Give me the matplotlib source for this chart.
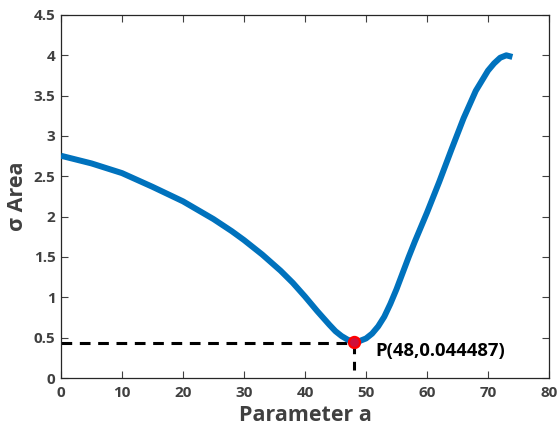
import matplotlib
matplotlib.use("Agg")
import matplotlib.pyplot as plt

# curve values
a_vals = [0, 5, 10, 15, 20, 25, 28, 30, 33, 36, 38, 40, 42, 44, 45, 46, 47, 48,
          49, 50, 51, 52, 53, 54, 55, 56, 57, 58, 60, 62, 64, 66, 68, 70, 71, 72, 73, 74]
area_vals = [2.755, 2.66, 2.54, 2.37, 2.19, 1.97, 1.82, 1.71, 1.53, 1.33, 1.18, 1.01,
             0.83, 0.66, 0.58, 0.52, 0.475, 0.45, 0.46, 0.49, 0.55, 0.64, 0.76, 0.92,
             1.10, 1.30, 1.50, 1.69, 2.05, 2.43, 2.83, 3.22, 3.56, 3.81, 3.90, 3.97,
             4.00, 3.98]

min_a = 48
min_area = 0.44
label = "P(48,0.044487)"

plt.rcParams['font.family'] = ['Open Sans', 'DejaVu Sans']
plt.rcParams['font.weight'] = 'bold'

fig = plt.figure(figsize=(5.57, 4.28), dpi=100)
ax = fig.add_axes([0.1095, 0.1168, 0.8761, 0.8482])

ax.plot(a_vals, area_vals, color='#0072BD', linewidth=4.3, solid_capstyle='butt',
        solid_joinstyle='round', zorder=3)

# dashed guides to the minimum
ax.plot([0, min_a], [min_area, min_area], color='black', linestyle=(0, (3.5, 2.5)), linewidth=2.2, zorder=2)
ax.plot([min_a, min_a], [min_area, 0.1], color='black', linestyle=(0, (3.5, 2.5)), linewidth=2.2, zorder=2)
ax.plot([min_a], [0.45], marker='o', markersize=8, markerfacecolor='#d0103a',
        markeredgecolor='#ff0000', markeredgewidth=1.6, zorder=4)
ax.text(51.5, 0.33, label, fontsize=13.3, fontweight='bold', color='black', va='center', ha='left')

ax.set_xlim(0, 80)
ax.set_ylim(0, 4.5)
ax.set_xticks(range(0, 81, 10))
ax.set_yticks([0, 0.5, 1, 1.5, 2, 2.5, 3, 3.5, 4, 4.5])
ax.set_yticklabels(['0', '0.5', '1', '1.5', '2', '2.5', '3', '3.5', '4', '4.5'])

ax.tick_params(direction='in', top=True, right=True, length=5, width=0.8,
               colors='#404040', labelsize=11)
ax.tick_params(axis='x', pad=6)
ax.tick_params(axis='y', pad=4)
for lab in ax.get_xticklabels() + ax.get_yticklabels():
    lab.set_fontweight('bold')
for sp in ax.spines.values():
    sp.set_color('#262626')
    sp.set_linewidth(0.9)

ax.set_xlabel('Parameter a', fontsize=15.5, fontweight='bold', color='#404040', labelpad=3)
ax.set_ylabel('σ Area', fontsize=15.5, fontweight='bold', color='#404040', labelpad=4)

fig.savefig('out.png', dpi=100)
